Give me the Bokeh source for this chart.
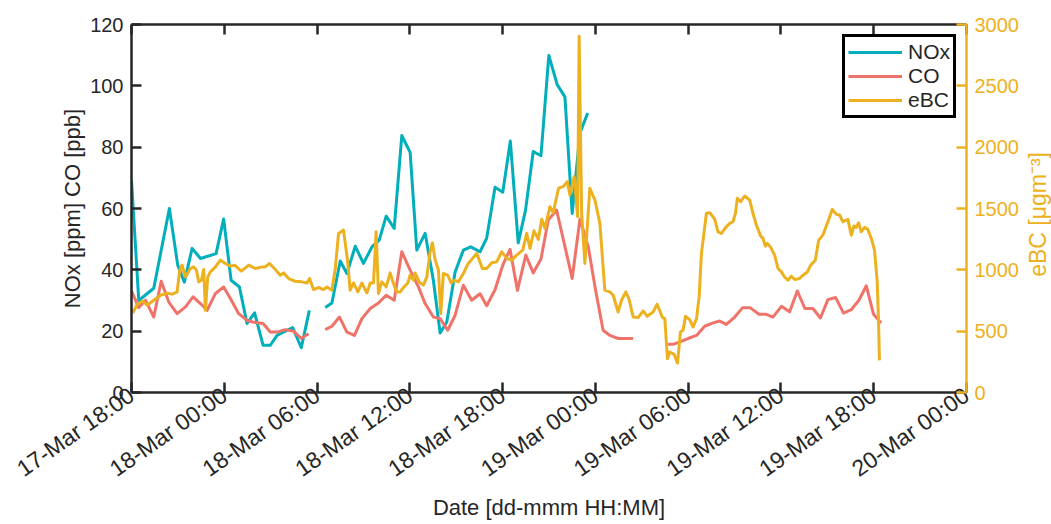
import math
from datetime import datetime, timedelta
from bokeh.plotting import figure
from bokeh.layouts import row
from bokeh.models import (Range1d, LinearAxis, DatetimeAxis, FixedTicker,
                          DatetimeTickFormatter, CustomJSTickFormatter,
                          Legend, LegendItem, Div)
from bokeh.embed import file_html
from bokeh.resources import INLINE

NaN = float("nan")
start = datetime(2019, 3, 17, 18, 0)

# ---- data: hours after 17-Mar 18:00 and values ----
nox_hours = [0.0, 0.47, 1.44, 2.45, 2.99, 3.42, 3.92, 4.46, 5.47, 5.96,
             6.44, 6.98, 7.47, 7.96, 8.51, 8.98, 9.41, 10.42, 10.98, 11.5,
             12.0,
             12.53, 12.96, 13.5, 13.93, 14.47, 15.0, 15.55, 16.02, 16.47, 16.99,
             17.48, 18.02, 18.45, 18.99, 19.52, 19.96, 20.39, 20.93, 21.46, 21.94,
             22.54, 22.97, 23.51, 24.01, 24.5, 25.01, 25.48, 25.98, 26.48, 26.99,
             27.53, 28.03, 28.5, 29.0, 29.5]
nox_ppm = [69.3, 30.0, 34.0, 60.0, 41.5, 36.0, 47.0, 43.7, 45.3, 56.6,
           36.6, 34.4, 22.5, 26.0, 15.4, 15.4, 18.6, 21.2, 14.6, 26.8,
           NaN,
           27.7, 29.2, 42.9, 38.8, 47.7, 42.1, 47.5, 49.7, 57.5, 53.5,
           83.8, 78.3, 46.4, 51.9, 36.6, 19.4, 23.0, 39.3, 46.4, 47.5,
           45.9, 50.3, 66.9, 65.3, 82.0, 48.8, 59.4, 78.6, 77.2, 109.9,
           100.4, 96.4, 58.4, 84.6, 91.1]

co_hours = [0.0, 0.47, 0.9, 1.44, 1.92, 2.41, 2.95, 3.49, 3.98, 4.46,
            4.89, 5.43, 5.96, 6.46, 6.93, 7.47, 8.01, 8.51, 8.98, 9.41,
            9.95, 10.48, 10.98, 11.45,
            12.0,
            12.53, 12.96, 13.45, 13.93, 14.42, 14.9, 15.44, 15.97, 16.47, 16.99,
            17.48, 18.02, 18.56, 18.99, 19.52, 19.96, 20.45, 20.93, 21.46, 22.0,
            22.54, 22.97, 23.51, 24.01, 24.48, 24.96, 25.5, 25.98, 26.48, 26.95,
            27.49, 28.5, 29.0, 29.54, 30.01, 30.5, 30.94, 31.47, 32.44,
            33.5,
            34.7, 35.02, 35.46, 35.99, 36.54, 37.07, 37.61, 38.04, 38.47, 39.01,
            39.51, 40.02, 40.58, 41.06, 41.48, 42.03, 42.56, 43.06, 43.55, 44.07,
            44.55, 45.04, 45.53, 46.05, 46.55, 47.04, 47.52, 47.99, 48.48]
co_ppb = [33.1, 27.7, 30.1, 24.6, 36.3, 29.5, 25.7, 27.9, 31.2, 29.0,
          26.8, 32.3, 34.4, 30.1, 25.7, 23.5, 22.8, 22.5, 19.7, 19.7,
          20.5, 20.0, 17.6, 19.2,
          NaN,
          20.5, 21.6, 24.6, 19.7, 18.6, 24.1, 27.4, 29.2, 31.7, 30.1,
          45.9, 39.9, 34.4, 29.0, 24.6, 24.1, 20.3, 25.2, 35.0, 30.1,
          32.2, 28.3, 33.5, 41.5, 46.7, 33.3, 44.8, 39.0, 43.5, 56.2,
          59.5, 37.2, 56.5, 47.5, 33.4, 20.3, 18.6, 17.6, 17.6,
          NaN,
          15.7, 15.7, 16.5, 17.6, 18.6, 21.6, 22.7, 23.3, 22.2, 24.6,
          27.6, 27.6, 25.5, 25.5, 24.6, 28.1, 26.3, 33.1, 27.4, 27.4,
          24.3, 30.3, 31.0, 25.9, 27.0, 30.1, 34.8, 25.5, 22.7]

ebc_hours = [0.08, 0.37, 0.73, 1.01, 1.44, 1.87, 2.31, 2.63, 2.95, 3.12,
             3.27, 3.49, 3.81, 4.02, 4.20, 4.35, 4.52, 4.67, 4.78, 4.93,
             5.10, 5.43, 5.75, 6.07, 6.39, 6.67, 7.10, 7.58, 8.01, 8.44,
             8.65, 8.93, 9.30, 9.62, 9.84, 10.16, 10.59, 11.02, 11.35, 11.52,
             11.77, 12.10, 12.42, 12.64, 12.96, 13.18, 13.39, 13.71, 13.97, 14.14,
             14.36, 14.64, 14.90, 15.22, 15.44, 15.65, 15.82, 15.97, 16.19, 16.47,
             16.73, 16.94, 17.16, 17.37, 17.59, 17.87, 18.02, 18.23, 18.34, 18.60,
             18.88, 19.10, 19.31, 19.46, 19.63, 19.85, 20.00, 20.17, 20.45, 20.67,
             20.88, 21.14, 21.46, 21.78, 22.33, 22.69, 22.97, 23.30, 23.62, 23.94,
             24.27, 24.59, 24.91, 25.30, 25.56, 25.77, 26.03, 26.31, 26.53, 26.74,
             27.06, 27.27, 27.45, 27.62, 27.92, 28.18, 28.35, 28.63, 28.85, 28.95,
             29.11, 29.32, 29.64, 29.97, 30.29, 30.61, 30.94, 31.15, 31.47, 31.69,
             31.97, 32.18, 32.44, 32.76, 33.09, 33.35, 33.73, 33.99, 34.34, 34.49,
             34.66, 34.81, 35.09, 35.31, 35.50, 35.67, 35.83, 36.10, 36.32, 36.54,
             36.71, 36.86, 37.18, 37.40, 37.72, 37.93, 38.15, 38.43, 38.69, 38.90,
             39.06, 39.18, 39.40, 39.66, 39.98, 40.19, 40.41, 40.69, 40.84, 40.99,
             41.12, 41.34, 41.59, 41.81, 42.03, 42.24, 42.45, 42.67, 42.89, 43.21,
             43.42, 43.71, 43.92, 44.22, 44.44, 44.71, 45.04, 45.32, 45.58, 45.79,
             46.01, 46.33, 46.55, 46.72, 46.87, 47.02, 47.19, 47.41, 47.62, 47.84,
             48.05, 48.22, 48.31, 48.37]
ebc_ugm3 = [648, 719, 746, 711, 752, 793, 810, 801, 820, 997,
            1038, 942, 1011, 1024, 997, 902, 915, 1003, 670, 942,
            983, 1024, 1079, 1052, 1030, 1038, 989, 1038, 1011, 1024,
            1024, 1052, 1003, 956, 975, 929, 907, 902, 893, 929,
            839, 856, 839, 861, 834, 1011, 1297, 1324, 1079, 834,
            893, 820, 893, 812, 893, 893, 1310, 807, 902, 861,
            975, 889, 820, 820, 856, 893, 956, 915, 975, 902,
            875, 942, 1147, 1220, 1085, 997, 643, 970, 956, 893,
            915, 902, 970, 1052, 1134, 1011, 1011, 1057, 1065, 1147,
            1093, 1079, 1120, 1161, 1297, 1175, 1318, 1248, 1412, 1338,
            1515, 1466, 1569, 1665, 1678, 1719, 1610, 1760, 1433, 2904,
            1461, 1052, 1665, 1569, 1379, 834, 820, 793, 656, 752,
            820, 758, 616, 611, 665, 621, 656, 719, 611, 602,
            275, 330, 311, 240, 493, 507, 621, 594, 534, 602,
            779, 1134, 1461, 1466, 1412, 1310, 1297, 1346, 1379, 1392,
            1461, 1583, 1556, 1602, 1569, 1461, 1365, 1275, 1256, 1193,
            1215, 1183, 1120, 1011, 983, 942, 915, 948, 921, 929,
            956, 983, 1038, 1079, 1242, 1283, 1392, 1493, 1452, 1447,
            1392, 1411, 1283, 1357, 1346, 1384, 1310, 1346, 1330, 1256,
            1161, 915, 589, 262]

x_tick_hours = [0, 6, 12, 18, 24, 30, 36, 42, 48, 54]
left_ticks = [0, 20, 40, 60, 80, 100, 120]
right_ticks = [0, 500, 1000, 1500, 2000, 2500, 3000]
series_names = ["NOx", "CO", "eBC"]
x_title = "Date [dd-mmm HH:MM]"
left_title = "NOx [ppm] CO [ppb]"
right_title = "eBC [\u03bcgm\u207b\u00b3]"

# ---- styling ----
C_NOX = "#00AFBB"
C_CO = "#F0736A"
C_EBC = "#EDB120"
INK = "#262626"
FONT = "Liberation Sans"
FS_TICK = "20px"
FS_LABEL = "22px"
DIV_W = 30
W, H = 1051 - DIV_W, 524
LEFT, RIGHT, TOP, BOTTOM = 131, 54, 24, 132


def to_dt(hours):
    return [start + timedelta(hours=h) for h in hours]


def to_ms(hours):
    return [(start + timedelta(hours=h) - datetime(1970, 1, 1)).total_seconds() * 1000.0
            for h in hours]


p = figure(width=W, height=H, x_axis_type="datetime",
           x_range=Range1d(start, start + timedelta(hours=54)),
           y_range=Range1d(0, 120),
           output_backend="svg", toolbar_location=None,
           min_border_left=LEFT, min_border_right=RIGHT,
           min_border_top=TOP, min_border_bottom=BOTTOM)
p.extra_y_ranges = {"ebc": Range1d(0, 3000)}
p.outline_line_color = None
p.xgrid.visible = False
p.ygrid.visible = False
p.background_fill_color = "white"
p.border_fill_color = "white"

r_nox = p.line(to_dt(nox_hours), nox_ppm, line_color=C_NOX, line_width=3,
               line_join="round")
r_co = p.line(to_dt(co_hours), co_ppb, line_color=C_CO, line_width=3,
              line_join="round")
r_ebc = p.line(to_dt(ebc_hours), ebc_ugm3, line_color=C_EBC, line_width=3,
               line_join="round", y_range_name="ebc")


def style_axis(ax, color):
    ax.axis_line_color = color
    ax.axis_line_width = 2.5
    ax.major_tick_line_color = color
    ax.major_tick_line_width = 2.5
    ax.major_tick_in = 10
    ax.major_tick_out = 0
    ax.minor_tick_line_color = None
    ax.major_label_text_color = color
    ax.major_label_text_font = FONT
    ax.major_label_text_font_size = FS_TICK
    ax.axis_label_text_color = color
    ax.axis_label_text_font = FONT
    ax.axis_label_text_font_size = FS_LABEL
    ax.axis_label_text_font_style = "normal"


x_ticks = to_ms(x_tick_hours)
fmt = "%d-%b %H:%M"

xa = p.xaxis[0]
style_axis(xa, INK)
xa.ticker = FixedTicker(ticks=x_ticks)
xa.formatter = DatetimeTickFormatter(
    microseconds=fmt, milliseconds=fmt, seconds=fmt, minsec=fmt, minutes=fmt,
    hourmin=fmt, hours=fmt, days=fmt, months=fmt, years=fmt)
xa.major_label_orientation = math.radians(35)
xa.major_label_text_font_size = "23px"
xa.major_label_standoff = 0
xa.axis_label = x_title
xa.axis_label_standoff = 0

top = DatetimeAxis()
style_axis(top, INK)
top.ticker = FixedTicker(ticks=x_ticks)
top.formatter = CustomJSTickFormatter(code="return ''")
top.major_label_standoff = 0
top.major_tick_in = 10
top.major_tick_line_color = INK
p.add_layout(top, "above")

ya = p.yaxis[0]
style_axis(ya, INK)
ya.ticker = FixedTicker(ticks=left_ticks)
ya.major_label_standoff = 8
ya.axis_label = left_title
ya.axis_label_standoff = 2

yr = LinearAxis(y_range_name="ebc")
style_axis(yr, C_EBC)
yr.ticker = FixedTicker(ticks=right_ticks)
yr.major_label_standoff = 8
p.add_layout(yr, "right")

legend = Legend(items=[LegendItem(label=series_names[0], renderers=[r_nox]),
                       LegendItem(label=series_names[1], renderers=[r_co]),
                       LegendItem(label=series_names[2], renderers=[r_ebc])],
                location=(711, 274))
legend.border_line_color = "black"
legend.border_line_width = 3
legend.border_line_alpha = 1.0
legend.background_fill_color = "white"
legend.background_fill_alpha = 1.0
legend.label_text_font = FONT
legend.label_text_font_size = "21px"
legend.label_text_color = INK
legend.glyph_width = 54
legend.glyph_height = 20
legend.label_height = 20
legend.label_standoff = 6
legend.spacing = 0
legend.padding = 3
legend.margin = 0
p.add_layout(legend)

# right-hand axis title (reads bottom-to-top, centred on the plot frame)
frame_h = H - TOP - BOTTOM
title_div = Div(
    text=(f'<div style="width:{DIV_W}px;height:{frame_h}px;margin-top:{TOP}px;'
          'display:flex;align-items:center;justify-content:flex-start;'
          'padding-left:6px;padding-top:12px;box-sizing:border-box;">'
          '<span style="writing-mode:vertical-rl;transform:rotate(180deg);'
          'white-space:nowrap;font-family:\'Liberation Sans\';font-size:23px;'
          f'line-height:1;color:{C_EBC};">{right_title}</span></div>'),
    width=DIV_W, height=H, margin=0)

layout = row(p, title_div, spacing=0)

open("out.html", "w").write(file_html(layout, INLINE))
